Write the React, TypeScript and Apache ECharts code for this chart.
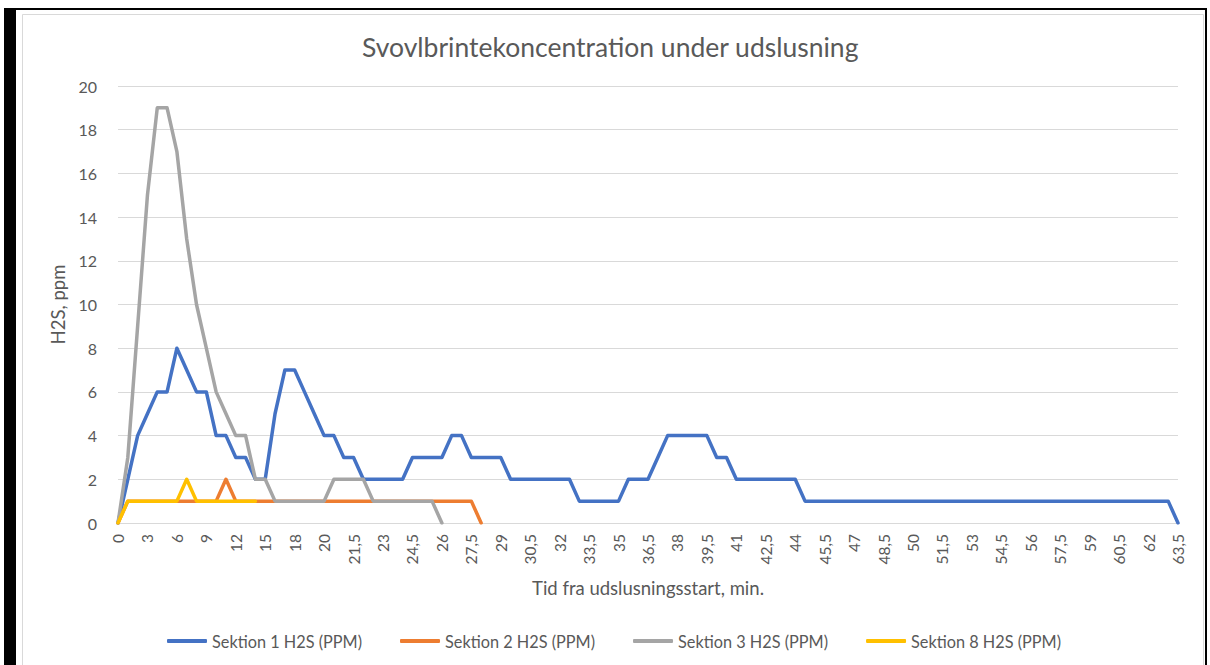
import React, { useEffect, useRef } from "react";
import * as echarts from "echarts";

const titleText = "Svovlbrintekoncentration under udslusning";
const xAxisName = "Tid fra udslusningsstart, min.";
const yAxisName = "H2S, ppm";

const categories = [
  "0","1","2","3","4","5","6","7","8","9","10","11","12","13","14","15","16","17","18","19",
  "19,5","20","20,5","21","21,5","22","22,5","23","23,5","24","24,5","25","25,5","26","26,5","27",
  "27,5","28","28,5","29","29,5","30","30,5","31","31,5","32","32,5","33","33,5","34","34,5","35",
  "35,5","36","36,5","37","37,5","38","38,5","39","39,5","40","40,5","41","41,5","42","42,5","43",
  "43,5","44","44,5","45","45,5","46","46,5","47","47,5","48","48,5","49","49,5","50","50,5","51",
  "51,5","52","52,5","53","53,5","54","54,5","55","55,5","56","56,5","57","57,5","58","58,5","59",
  "59,5","60","60,5","61","61,5","62","62,5","63","63,5"
];

const seriesNames = ["Sektion 1 H2S (PPM)", "Sektion 2 H2S (PPM)", "Sektion 3 H2S (PPM)", "Sektion 8 H2S (PPM)"];
const seriesColors = ["#4472C4", "#ED7D31", "#A5A5A5", "#FFC000"];

const sektion1 = [
  0, 2, 4, 5, 6, 6, 8, 7, 6, 6, 4, 4, 3, 3, 2, 2, 5, 7, 7, 6,
  5, 4, 4, 3, 3, 2, 2, 2, 2, 2, 3, 3, 3, 3, 4, 4, 3, 3, 3, 3,
  2, 2, 2, 2, 2, 2, 2, 1, 1, 1, 1, 1, 2, 2, 2, 3, 4, 4, 4, 4,
  4, 3, 3, 2, 2, 2, 2, 2, 2, 2, 1, 1, 1, 1, 1, 1, 1, 1, 1, 1,
  1, 1, 1, 1, 1, 1, 1, 1, 1, 1, 1, 1, 1, 1, 1, 1, 1, 1, 1, 1,
  1, 1, 1, 1, 1, 1, 1, 1, 0
];

const sektion2 = [
  0, 1, 1, 1, 1, 1, 1, 1, 1, 1, 1, 2, 1, 1, 1, 1, 1, 1, 1, 1,
  1, 1, 1, 1, 1, 1, 1, 1, 1, 1, 1, 1, 1, 1, 1, 1, 1, 0
];

const sektion3 = [
  0, 3, 9, 15, 19, 19, 17, 13, 10, 8, 6, 5, 4, 4, 2, 2, 1, 1, 1, 1,
  1, 1, 2, 2, 2, 2, 1, 1, 1, 1, 1, 1, 1, 0
];

const sektion8 = [0, 1, 1, 1, 1, 1, 1, 2, 1, 1, 1, 1, 1, 1, 1];

const seriesData = [sektion1, sektion2, sektion3, sektion8];

const FONT = "Lato";
const TEXT_COLOR = "#595959";

export default function App() {
  const ref = useRef<HTMLDivElement>(null);
  useEffect(() => {
    if (!ref.current) return;
    const chart = echarts.init(ref.current, null, { renderer: "svg" });
    chart.setOption({
      animation: false,
      backgroundColor: "#ffffff",
      textStyle: { fontFamily: FONT },
      title: {
        text: titleText,
        left: 357,
        top: 28,
        textStyle: { fontFamily: FONT, fontSize: 26.5, fontWeight: "normal", color: TEXT_COLOR },
      },
      legend: {
        left: 162,
        top: 628,
        itemWidth: 40,
        itemHeight: 4,
        itemGap: 38,
        icon: "roundRect",
        textStyle: { fontFamily: FONT, fontSize: 16.3, color: TEXT_COLOR },
        data: seriesNames,
      },
      grid: { left: 118, right: 32, top: 86, bottom: 142, containLabel: false },
      xAxis: {
        type: "category",
        data: categories,
        boundaryGap: false,
        name: xAxisName,
        nameLocation: "middle",
        nameGap: 55,
        nameTextStyle: { fontFamily: FONT, fontSize: 18.5, color: TEXT_COLOR },
        axisLine: { show: true, lineStyle: { color: "#d9d9d9", width: 1 } },
        axisTick: { show: false },
        splitLine: { show: false },
        axisLabel: {
          interval: 2,
          rotate: 90,
          margin: 11,
          fontFamily: FONT,
          fontSize: 15.5,
          color: TEXT_COLOR,
        },
      },
      yAxis: {
        type: "value",
        min: 0,
        max: 20,
        interval: 2,
        name: yAxisName,
        nameLocation: "middle",
        nameGap: 50,
        nameRotate: 90,
        nameTextStyle: { fontFamily: FONT, fontSize: 18.5, color: TEXT_COLOR },
        axisLine: { show: false },
        axisTick: { show: false },
        splitLine: { show: true, lineStyle: { color: "#d9d9d9", width: 1 } },
        axisLabel: { margin: 21, fontFamily: FONT, fontSize: 16, color: TEXT_COLOR },
      },
      graphic: [
        { type: "rect", left: 20, top: 12, shape: { width: 1181, height: 670 }, style: { fill: "none", stroke: "#d9d9d9", lineWidth: 1 }, silent: true },
        { type: "rect", left: 4, top: 8, shape: { width: 12, height: 660 }, style: { fill: "#000000" }, silent: true },
        { type: "rect", left: 4, top: 8, shape: { width: 1203, height: 2 }, style: { fill: "#000000" }, silent: true },
        { type: "rect", left: 1205, top: 8, shape: { width: 2, height: 660 }, style: { fill: "#000000" }, silent: true },
      ],
      series: seriesNames.map((name, i) => ({
        name,
        type: "line",
        data: seriesData[i],
        symbol: "none",
        connectNulls: false,
        color: seriesColors[i],
        lineStyle: { width: 3.5, color: seriesColors[i], cap: "round", join: "round" },
      })),
    });
    return () => chart.dispose();
  }, []);
  return (
    <div
      ref={ref}
      style={{ position: "fixed", left: 0, top: 0, width: 1210, height: 665, background: "#fff" }}
    />
  );
}
